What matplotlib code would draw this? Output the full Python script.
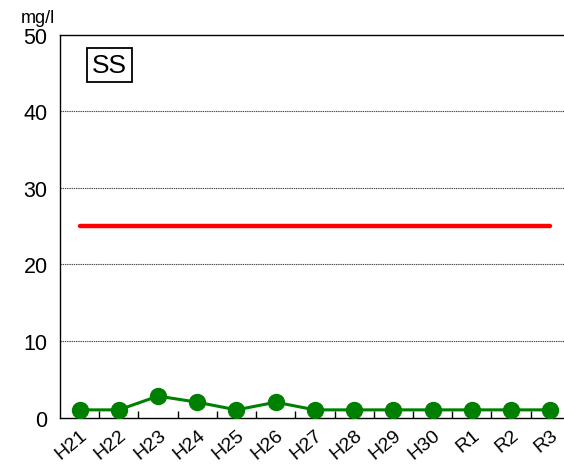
import matplotlib
matplotlib.use('Agg')
import matplotlib.pyplot as plt

plt.rcParams['font.family'] = ['Liberation Sans', 'DejaVu Sans']

# Data
years = ['H21', 'H22', 'H23', 'H24', 'H25', 'H26', 'H27', 'H28', 'H29', 'H30', 'R1', 'R2', 'R3']
ss = [1, 1, 2.8, 2, 1, 2, 1, 1, 1, 1, 1, 1, 1]
standard = [25] * len(years)

fig = plt.figure(figsize=(5.64, 4.77), dpi=100)
ax = fig.add_axes([0.1064, 0.1226, 0.904, 0.802])

x = list(range(len(years)))
ax.plot(x, standard, color='#ff0000', linewidth=3.2, solid_capstyle='round', zorder=3)
ax.plot(x, ss, color='#008000', linewidth=2.2, marker='o', markersize=11.5, zorder=4)

ax.set_xlim(-0.5, len(years) - 0.5)
ax.set_ylim(0, 50)
ax.set_yticks([0, 10, 20, 30, 40, 50])
ax.tick_params(axis='y', length=0, labelsize=15.5, pad=9)
ax.set_xticks([i + 0.5 for i in range(len(years) - 1)], minor=False)
ax.set_xticks(x, minor=True)
ax.set_xticklabels([], minor=False)
ax.set_xticklabels(years, minor=True, rotation=40, ha='right', rotation_mode='anchor', fontsize=14)
ax.tick_params(axis='x', which='major', direction='in', length=5, width=1)
ax.tick_params(axis='x', which='minor', length=0, pad=6)

for v in [10, 20, 30, 40]:
    ax.axhline(v, color='#444444', linestyle=(0, (1.2, 0.8)), linewidth=0.8, zorder=1)

for s in ['left', 'bottom', 'top']:
    ax.spines[s].set_color('black')
    ax.spines[s].set_linewidth(1)
ax.spines['right'].set_visible(False)

ax.text(0.097, 0.921, 'SS', transform=ax.transAxes, fontsize=19, va='center', ha='center',
        bbox=dict(boxstyle='square,pad=0.18', facecolor='white', edgecolor='black', linewidth=1.3))
fig.text(0.067, 0.962, 'mg/l', fontsize=13, ha='center', va='center')

fig.savefig('out.png', dpi=100)
